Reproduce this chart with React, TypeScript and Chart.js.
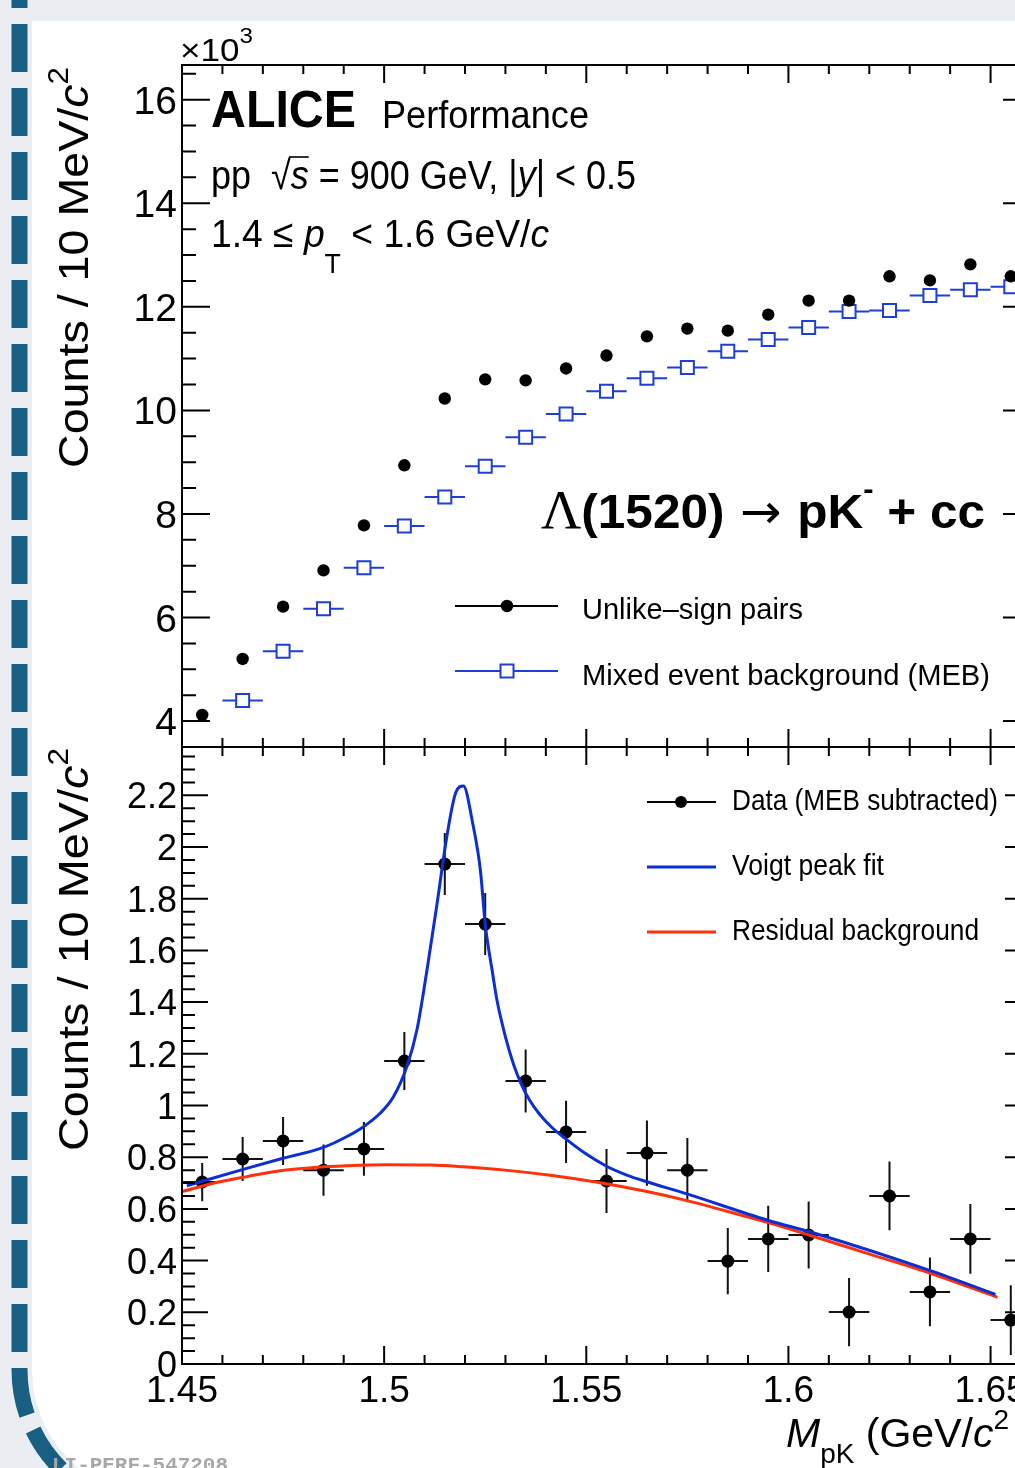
import React, { useEffect, useRef } from 'react';
import { Chart, registerables } from 'chart.js';

Chart.register(...registerables);

// ---------------- data ----------------
const BIN_CENTERS = [1.455, 1.465, 1.475, 1.485, 1.495, 1.505, 1.515, 1.525, 1.535, 1.545, 1.555, 1.565, 1.575, 1.585, 1.595, 1.605, 1.615, 1.625, 1.635, 1.645, 1.655];
const BIN_HALF_WIDTH = 0.005;

// top panel (x10^3 counts)
const UNLIKE_SIGN = [4.12, 5.20, 6.21, 6.91, 7.78, 8.94, 10.23, 10.60, 10.58, 10.81, 11.06, 11.43, 11.58, 11.54, 11.85, 12.12, 12.12, 12.59, 12.51, 12.82, 12.59];
const MEB = [null, 4.40, 5.35, 6.17, 6.96, 7.77, 8.33, 8.92, 9.48, 9.93, 10.37, 10.62, 10.83, 11.14, 11.37, 11.60, 11.91, 11.93, 12.22, 12.33, 12.39];

// bottom panel (x10^3 counts)
const SUBTRACTED = [0.704, 0.793, 0.863, 0.750, 0.832, 1.172, 1.934, 1.702, 1.095, 0.898, 0.708, 0.816, 0.750, 0.398, 0.484, 0.499, 0.201, 0.650, 0.279, 0.484, 0.170];
const SUBTRACTED_ERR = [0.074, 0.085, 0.093, 0.099, 0.104, 0.112, 0.120, 0.120, 0.122, 0.120, 0.124, 0.126, 0.124, 0.128, 0.128, 0.130, 0.132, 0.133, 0.133, 0.135, 0.135];

const VOIGT_X = [1.4512, 1.4550, 1.4660, 1.4743, 1.4850, 1.4908, 1.4949, 1.4990, 1.5023, 1.5056, 1.5081, 1.5106, 1.5131, 1.5155, 1.5177, 1.5196, 1.5219, 1.5238, 1.5250, 1.5267, 1.5279, 1.5300, 1.5320, 1.5340, 1.5360, 1.5385, 1.5415, 1.5450, 1.5500, 1.5550, 1.5600, 1.5650, 1.5749, 1.5947, 1.6071, 1.6351, 1.6512];
const VOIGT_Y = [0.689, 0.707, 0.757, 0.793, 0.838, 0.880, 0.918, 0.970, 1.034, 1.150, 1.292, 1.524, 1.782, 2.040, 2.210, 2.236, 2.092, 1.911, 1.702, 1.524, 1.408, 1.266, 1.160, 1.080, 1.020, 0.965, 0.915, 0.870, 0.812, 0.765, 0.731, 0.705, 0.658, 0.557, 0.503, 0.361, 0.269];

const RESID_X = [1.4500, 1.4577, 1.4660, 1.4743, 1.4825, 1.4908, 1.5007, 1.5114, 1.5197, 1.5287, 1.5411, 1.5535, 1.5650, 1.5749, 1.5850, 1.5950, 1.6051, 1.6201, 1.6351, 1.6517];
const RESID_Y = [0.667, 0.699, 0.725, 0.748, 0.760, 0.767, 0.771, 0.770, 0.763, 0.752, 0.730, 0.701, 0.667, 0.632, 0.590, 0.547, 0.499, 0.425, 0.351, 0.258];

// axes
const X_MIN = 1.45;
const X_MAX = 1.66;
const X_TICKS = [1.45, 1.5, 1.55, 1.6, 1.65];
const X_TICK_LABELS = ['1.45', '1.5', '1.55', '1.6', '1.65'];
const TOP_Y_MIN = 3.5;
const TOP_Y_MAX = 16.67;
const TOP_Y_TICKS = [4, 6, 8, 10, 12, 14, 16];
const TOP_Y_LABELS = ['4', '6', '8', '10', '12', '14', '16'];
const BOT_Y_MIN = 0;
const BOT_Y_MAX = 2.387;
const BOT_Y_TICKS = [0, 0.2, 0.4, 0.6, 0.8, 1, 1.2, 1.4, 1.6, 1.8, 2, 2.2];
const BOT_Y_LABELS = ['0', '0.2', '0.4', '0.6', '0.8', '1', '1.2', '1.4', '1.6', '1.8', '2', '2.2'];

// ---------------- styling ----------------
const CW = 1060;
const CH = 1468;
const SANS = '"Liberation Sans", Arial, Helvetica, sans-serif';
const SERIF = '"Liberation Serif", "DejaVu Serif", serif';
const BLUE_MEB = '#1d3fd8';
const BLUE_FIT = '#0b2fd4';
const RED_BKG = '#ff300a';
const STRIP = '#195f84';

type Seg = { t: string; size: number; bold?: boolean; italic?: boolean; family?: string; dy?: number; over?: boolean };

function fontOf(s: Seg) {
  return `${s.italic ? 'italic ' : ''}${s.bold ? 'bold ' : ''}${s.size}px ${s.family || SANS}`;
}

function drawRich(ctx: CanvasRenderingContext2D, segs: Seg[], x: number, y: number, opt: any = {}) {
  ctx.save();
  const widths = segs.map((s) => {
    ctx.font = fontOf(s);
    return ctx.measureText(s.t).width;
  });
  const W = widths.reduce((a, b) => a + b, 0);
  const sx = opt.width ? opt.width / W : opt.sx ?? 1;
  ctx.translate(x, y);
  if (opt.rotate) ctx.rotate(-Math.PI / 2);
  ctx.scale(sx, 1);
  let cx = opt.align === 'right' ? -W : opt.align === 'center' ? -W / 2 : 0;
  ctx.fillStyle = opt.color || '#000';
  ctx.strokeStyle = opt.color || '#000';
  ctx.textAlign = 'left';
  ctx.textBaseline = 'alphabetic';
  segs.forEach((s, i) => {
    ctx.font = fontOf(s);
    ctx.fillText(s.t, cx, s.dy || 0);
    if (s.over) {
      ctx.lineWidth = 1.6;
      ctx.beginPath();
      const oy = (s.dy || 0) - s.size * 0.8;
      ctx.moveTo(cx - 2, oy);
      ctx.lineTo(cx + widths[i], oy);
      ctx.stroke();
    }
    cx += widths[i];
  });
  ctx.restore();
}

function drawFrameAndTicks(chart: any, yMin: number, yMax: number, yMinor: number, yMajor: number, yMajLen: number, yMinLen: number, yFirstMajor: number) {
  const { ctx, chartArea: a, scales } = chart;
  const xs = scales.x;
  const ys = scales.y;
  ctx.save();
  ctx.strokeStyle = '#000';
  ctx.lineWidth = 2;
  ctx.strokeRect(a.left, a.top, a.right - a.left, a.bottom - a.top);
  ctx.beginPath();
  const nx = Math.round((X_MAX - X_MIN) / 0.01);
  for (let k = 0; k <= nx; k++) {
    const v = X_MIN + k * 0.01;
    const px = xs.getPixelForValue(v);
    const major = k % 5 === 0;
    const len = major ? 18 : 9;
    ctx.moveTo(px, a.bottom);
    ctx.lineTo(px, a.bottom - len);
    ctx.moveTo(px, a.top);
    ctx.lineTo(px, a.top + len);
  }
  const ny = Math.floor((yMax - yMin) / yMinor + 1e-6);
  const ratio = Math.round(yMajor / yMinor);
  for (let k = 0; k <= ny; k++) {
    const v = yMin + k * yMinor;
    const py = ys.getPixelForValue(v);
    const off = Math.round((v - yFirstMajor) / yMinor);
    const major = ((off % ratio) + ratio) % ratio === 0;
    const len = major ? yMajLen : yMinLen;
    ctx.moveTo(a.left, py);
    ctx.lineTo(a.left + len, py);
    ctx.moveTo(a.right, py);
    ctx.lineTo(a.right - len, py);
  }
  ctx.stroke();
  ctx.restore();
}

// ---------------- plugins ----------------
const backgroundPlugin = {
  id: 'slideBackground',
  beforeDraw(chart: any) {
    const ctx = chart.ctx;
    ctx.save();
    ctx.fillStyle = '#ffffff';
    ctx.fillRect(0, 0, CW, CH);
    ctx.fillStyle = '#eaeef2';
    ctx.fillRect(0, 0, CW, 21);
    const cx = 158.3, cy = 1370, R = 138.8;
    ctx.beginPath();
    ctx.moveTo(0, 0);
    ctx.lineTo(32, 0);
    ctx.lineTo(32, cy);
    ctx.arc(cx, cy, R - 12.5, Math.PI, 2.2, true);
    ctx.lineTo(0, CH);
    ctx.closePath();
    ctx.fill();
    ctx.strokeStyle = STRIP;
    ctx.lineWidth = 16;
    ctx.setLineDash([48, 16]);
    ctx.lineDashOffset = 40;
    ctx.beginPath();
    ctx.moveTo(19.5, 0);
    ctx.lineTo(19.5, cy);
    ctx.arc(cx, cy, R, Math.PI, 1.95, true);
    ctx.stroke();
    ctx.restore();
  },
};

const topPanelPlugin = {
  id: 'topPanel',
  beforeDatasetsDraw(chart: any) {
    const { ctx, scales } = chart;
    ctx.save();
    ctx.strokeStyle = BLUE_MEB;
    ctx.lineWidth = 2;
    ctx.beginPath();
    BIN_CENTERS.forEach((c, i) => {
      const v = MEB[i];
      if (v == null) return;
      const py = scales.y.getPixelForValue(v);
      ctx.moveTo(scales.x.getPixelForValue(c - BIN_HALF_WIDTH), py);
      ctx.lineTo(scales.x.getPixelForValue(c + BIN_HALF_WIDTH), py);
    });
    ctx.stroke();
    ctx.restore();
  },
  afterDraw(chart: any) {
    const { ctx, scales } = chart;
    drawFrameAndTicks(chart, TOP_Y_MIN, TOP_Y_MAX, 0.5, 2, 28, 14, TOP_Y_TICKS[0]);
    TOP_Y_TICKS.forEach((v, i) => {
      const py = scales.y.getPixelForValue(v);
      drawRich(ctx, [{ t: TOP_Y_LABELS[i], size: 39 }], 177, py + 14, { align: 'right' });
    });
    drawRich(ctx, [{ t: '×10', size: 32 }, { t: '3', size: 22, dy: -18 }], 180, 61, { width: 73 });
    drawRich(ctx, [{ t: 'Counts / 10 MeV/', size: 43 }, { t: 'c', size: 43, italic: true }, { t: '2', size: 29, dy: -20 }], 88, 468, { rotate: true, width: 401 });
    drawRich(ctx, [{ t: 'ALICE', size: 52, bold: true }], 211, 127, { width: 145 });
    drawRich(ctx, [{ t: 'Performance', size: 39 }], 382, 128, { width: 207 });
    drawRich(ctx, [
      { t: 'pp  ', size: 40 },
      { t: '√', size: 40 },
      { t: 's', size: 40, italic: true, over: true },
      { t: ' = 900 GeV, |', size: 40 },
      { t: 'y', size: 40, italic: true },
      { t: '| < 0.5', size: 40 },
    ], 211, 189, { width: 425 });
    drawRich(ctx, [
      { t: '1.4 ≤ ', size: 39 },
      { t: 'p', size: 39, italic: true },
      { t: 'T', size: 28, dy: 26 },
      { t: ' < 1.6 GeV/', size: 39 },
      { t: 'c', size: 39, italic: true },
    ], 211, 247, { width: 338 });
    drawRich(ctx, [
      { t: 'Λ', size: 54, family: SERIF },
      { t: '(1520)', size: 48, bold: true },
      { t: ' → ', size: 48, family: '"DejaVu Sans", sans-serif' },
      { t: 'pK', size: 48, bold: true },
      { t: '-', size: 30, bold: true, dy: -29 },
      { t: ' + cc', size: 48, bold: true },
    ], 541, 528, { width: 444 });
    ctx.save();
    ctx.lineWidth = 2;
    ctx.strokeStyle = '#000';
    ctx.beginPath();
    ctx.moveTo(455, 606);
    ctx.lineTo(558, 606);
    ctx.stroke();
    ctx.fillStyle = '#000';
    ctx.beginPath();
    ctx.arc(507, 606, 6.2, 0, Math.PI * 2);
    ctx.fill();
    ctx.strokeStyle = BLUE_MEB;
    ctx.beginPath();
    ctx.moveTo(455, 671);
    ctx.lineTo(558, 671);
    ctx.stroke();
    ctx.fillStyle = '#fff';
    ctx.fillRect(500.5, 664.5, 13, 13);
    ctx.strokeRect(500.5, 664.5, 13, 13);
    ctx.restore();
    drawRich(ctx, [{ t: 'Unlike–sign pairs', size: 30 }], 582, 619, { width: 221 });
    drawRich(ctx, [{ t: 'Mixed event background (MEB)', size: 30 }], 582, 685, { width: 408 });
  },
};

const bottomPanelPlugin = {
  id: 'bottomPanel',
  beforeDatasetsDraw(chart: any) {
    const { ctx, scales } = chart;
    ctx.save();
    ctx.strokeStyle = '#111';
    ctx.lineWidth = 2;
    ctx.beginPath();
    BIN_CENTERS.forEach((c, i) => {
      const v = SUBTRACTED[i];
      const e = SUBTRACTED_ERR[i];
      const px = scales.x.getPixelForValue(c);
      const py = scales.y.getPixelForValue(v);
      ctx.moveTo(scales.x.getPixelForValue(c - BIN_HALF_WIDTH), py);
      ctx.lineTo(scales.x.getPixelForValue(c + BIN_HALF_WIDTH), py);
      ctx.moveTo(px, scales.y.getPixelForValue(v + e));
      ctx.lineTo(px, scales.y.getPixelForValue(v - e));
    });
    ctx.stroke();
    ctx.restore();
  },
  afterDraw(chart: any) {
    const { ctx, scales } = chart;
    drawFrameAndTicks(chart, BOT_Y_MIN, BOT_Y_MAX, 0.05, 0.2, 26, 13, BOT_Y_TICKS[0]);
    BOT_Y_TICKS.forEach((v, i) => {
      const py = scales.y.getPixelForValue(v);
      drawRich(ctx, [{ t: BOT_Y_LABELS[i], size: 36 }], 177, py + 13, { align: 'right' });
    });
    X_TICKS.forEach((v, i) => {
      const px = scales.x.getPixelForValue(v);
      drawRich(ctx, [{ t: X_TICK_LABELS[i], size: 37 }], px, 1402, { align: 'center' });
    });
    drawRich(ctx, [{ t: 'Counts / 10 MeV/', size: 43 }, { t: 'c', size: 43, italic: true }, { t: '2', size: 29, dy: -20 }], 88, 1151, { rotate: true, width: 403 });
    drawRich(ctx, [
      { t: 'M', size: 41, italic: true },
      { t: 'pK', size: 28, dy: 16 },
      { t: ' (GeV/', size: 41 },
      { t: 'c', size: 41, italic: true },
      { t: '2', size: 28, dy: -18 },
    ], 786, 1447);
    ctx.save();
    ctx.lineWidth = 2;
    ctx.strokeStyle = '#000';
    ctx.beginPath();
    ctx.moveTo(647, 802);
    ctx.lineTo(716, 802);
    ctx.stroke();
    ctx.fillStyle = '#000';
    ctx.beginPath();
    ctx.arc(681, 802, 6, 0, Math.PI * 2);
    ctx.fill();
    ctx.lineWidth = 3;
    ctx.strokeStyle = BLUE_FIT;
    ctx.beginPath();
    ctx.moveTo(647, 867);
    ctx.lineTo(716, 867);
    ctx.stroke();
    ctx.strokeStyle = RED_BKG;
    ctx.beginPath();
    ctx.moveTo(647, 932);
    ctx.lineTo(716, 932);
    ctx.stroke();
    ctx.restore();
    drawRich(ctx, [{ t: 'Data (MEB subtracted)', size: 30 }], 732, 810, { width: 266 });
    drawRich(ctx, [{ t: 'Voigt peak fit', size: 30 }], 732, 875, { width: 152 });
    drawRich(ctx, [{ t: 'Residual background', size: 30 }], 732, 940, { width: 247 });
    drawRich(ctx, [{ t: 'LI-PERF-547208', size: 21, bold: true, family: '"Liberation Mono", "DejaVu Sans Mono", monospace' }], 52, 1471, { width: 176, color: '#a8a8a8' });
  },
};

// ---------------- chart configs ----------------
function baseOptions(yMin: number, yMax: number, padding: any) {
  return {
    responsive: false,
    animation: false,
    devicePixelRatio: 1,
    events: [],
    layout: { padding, autoPadding: false },
    scales: {
      x: { type: 'linear', min: X_MIN, max: X_MAX, display: false },
      y: { type: 'linear', min: yMin, max: yMax, display: false },
    },
    plugins: { legend: { display: false }, tooltip: { enabled: false } },
  };
}

function topConfig(): any {
  return {
    type: 'scatter',
    data: {
      datasets: [
        {
          label: 'Unlike–sign pairs',
          data: BIN_CENTERS.map((x, i) => ({ x, y: UNLIKE_SIGN[i] })),
          pointStyle: 'circle',
          pointRadius: 6.2,
          pointBackgroundColor: '#000',
          pointBorderColor: '#000',
          pointBorderWidth: 0,
          showLine: false,
          order: 1,
        },
        {
          label: 'Mixed event background (MEB)',
          data: BIN_CENTERS.map((x, i) => ({ x, y: MEB[i] })).filter((p) => p.y != null),
          pointStyle: 'rect',
          pointRadius: 9.2,
          pointBackgroundColor: '#fff',
          pointBorderColor: BLUE_MEB,
          pointBorderWidth: 2,
          showLine: false,
          order: 2,
        },
      ],
    },
    options: baseOptions(TOP_Y_MIN, TOP_Y_MAX, { left: 182, right: CW - 1031, top: 65, bottom: CH - 747 }),
    plugins: [backgroundPlugin, topPanelPlugin],
  };
}

function bottomConfig(): any {
  return {
    type: 'scatter',
    data: {
      datasets: [
        {
          label: 'Data (MEB subtracted)',
          data: BIN_CENTERS.map((x, i) => ({ x, y: SUBTRACTED[i] })),
          pointStyle: 'circle',
          pointRadius: 6.5,
          pointBackgroundColor: '#000',
          pointBorderColor: '#000',
          pointBorderWidth: 0,
          showLine: false,
          order: 3,
        },
        {
          label: 'Residual background',
          data: RESID_X.map((x, i) => ({ x, y: RESID_Y[i] })),
          showLine: true,
          pointRadius: 0,
          borderColor: RED_BKG,
          borderWidth: 3,
          cubicInterpolationMode: 'monotone',
          fill: false,
          order: 2,
        },
        {
          label: 'Voigt peak fit',
          data: VOIGT_X.map((x, i) => ({ x, y: VOIGT_Y[i] })),
          showLine: true,
          pointRadius: 0,
          borderColor: BLUE_FIT,
          borderWidth: 3,
          cubicInterpolationMode: 'monotone',
          fill: false,
          order: 1,
        },
      ],
    },
    options: baseOptions(BOT_Y_MIN, BOT_Y_MAX, { left: 182, right: CW - 1031, top: 747, bottom: CH - 1364 }),
    plugins: [bottomPanelPlugin],
  };
}

export default function App() {
  const topRef = useRef<HTMLCanvasElement>(null);
  const botRef = useRef<HTMLCanvasElement>(null);
  useEffect(() => {
    const top = new Chart(topRef.current as HTMLCanvasElement, topConfig());
    const bot = new Chart(botRef.current as HTMLCanvasElement, bottomConfig());
    return () => {
      top.destroy();
      bot.destroy();
    };
  }, []);
  const cs: React.CSSProperties = { position: 'absolute', left: 0, top: 0, width: CW, height: CH };
  return (
    <div style={{ position: 'absolute', left: 0, top: 0, width: 1015, height: 1468, overflow: 'hidden', background: '#fff' }}>
      <canvas ref={topRef} width={CW} height={CH} style={cs} />
      <canvas ref={botRef} width={CW} height={CH} style={cs} />
    </div>
  );
}
